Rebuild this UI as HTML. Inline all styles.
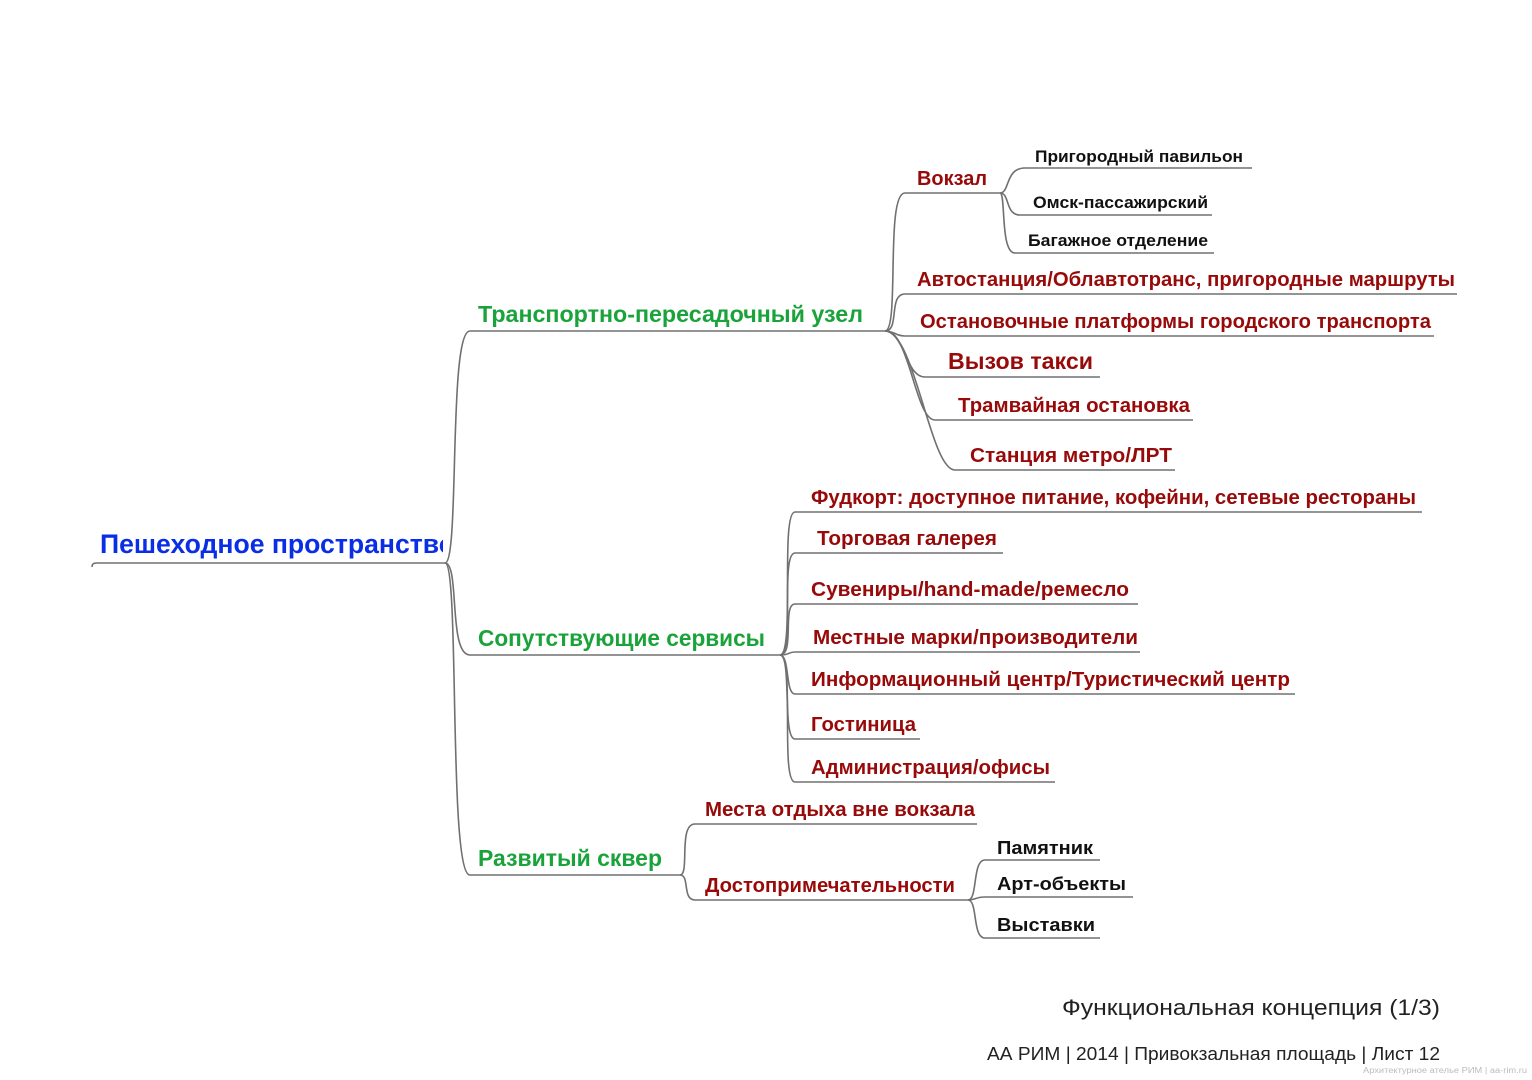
<!DOCTYPE html>
<html><head><meta charset="utf-8"><style>
html,body{margin:0;padding:0;background:#fff;}
svg{display:block;}
text{font-family:"Liberation Sans","DejaVu Sans",sans-serif;font-weight:bold;}
.r{fill:#980a0a;font-size:20px;}
.g{fill:#1aa33a;font-size:23px;}
.k{fill:#111;font-size:17px;}
.l{stroke:#707070;stroke-width:1.6;fill:none;}
</style></head><body>
<svg width="1532" height="1080" viewBox="0 0 1532 1080" xmlns="http://www.w3.org/2000/svg">
<defs><clipPath id="c"><rect x="90" y="520" width="353" height="50"/></clipPath></defs>
<g class="l">
<path d="M92 567 Q92 563 96 563 L445 563"/>
<path d="M470 331 L885 331"/><path d="M470 655 L780 655"/><path d="M470 875 L680 875"/>
<path d="M905 193 L1000 193"/><path d="M1025 168 L1252 168"/><path d="M1020 215 L1212 215"/><path d="M1015 253 L1214 253"/>
<path d="M905 294 L1457 294"/><path d="M905 336 L1434 336"/><path d="M925 377 L1100 377"/><path d="M935 420 L1193 420"/><path d="M955 470 L1175 470"/>
<path d="M795 512 L1422 512"/><path d="M795 553 L1003 553"/><path d="M795 604 L1138 604"/><path d="M795 652 L1140 652"/><path d="M795 694 L1295 694"/><path d="M795 739 L920 739"/><path d="M795 782 L1055 782"/>
<path d="M695 824 L977 824"/><path d="M695 900 L968 900"/>
<path d="M985 860 L1100 860"/><path d="M985 897 L1133 897"/><path d="M985 938 L1100 938"/>
<path d="M445 563 C460 563 448 331 470 331"/>
<path d="M445 563 C460 563 448 655 470 655"/>
<path d="M445 563 C460 563 448 875 470 875"/>
<path d="M885 331 C900 331 885 193 905 193"/>
<path d="M885 331 C900 331 888 294 905 294"/>
<path d="M885 331 C895 331 895 336 905 336"/>
<path d="M885 331 C905 331 905 377 925 377"/>
<path d="M885 331 C910 331 915 420 935 420"/>
<path d="M885 331 C915 331 930 470 955 470"/>
<path d="M1000 193 C1010 193 1005 168 1025 168"/>
<path d="M1000 193 C1010 193 1005 215 1020 215"/>
<path d="M1000 193 C1006 193 1000 253 1015 253"/>
<path d="M780 655 C795 655 780 512 795 512"/>
<path d="M780 655 C795 655 780 553 795 553"/>
<path d="M780 655 C795 655 782 604 795 604"/>
<path d="M780 655 C790 655 788 652 795 652"/>
<path d="M780 655 C790 655 785 694 795 694"/>
<path d="M780 655 C792 655 782 739 795 739"/>
<path d="M780 655 C795 655 780 782 795 782"/>
<path d="M680 875 C690 875 678 824 695 824"/>
<path d="M680 875 C690 875 682 900 695 900"/>
<path d="M968 900 C978 900 972 860 985 860"/>
<path d="M968 900 C976 900 975 897 985 897"/>
<path d="M968 900 C978 900 972 938 985 938"/>
</g>
<text x="100" y="553" clip-path="url(#c)" style="fill:#0a2ee6;font-size:27px" textLength="355" lengthAdjust="spacingAndGlyphs">Пешеходное пространство</text>
<text class="g" x="478" y="322" textLength="385" lengthAdjust="spacingAndGlyphs">Транспортно-пересадочный узел</text>
<text class="g" x="478" y="646" textLength="287" lengthAdjust="spacingAndGlyphs">Сопутствующие сервисы</text>
<text class="g" x="478" y="866" textLength="184" lengthAdjust="spacingAndGlyphs">Развитый сквер</text>
<text class="r" x="917" y="185" textLength="70" lengthAdjust="spacingAndGlyphs">Вокзал</text>
<text class="k" x="1035" y="162" textLength="208" lengthAdjust="spacingAndGlyphs">Пригородный павильон</text>
<text class="k" x="1033" y="208" textLength="175" lengthAdjust="spacingAndGlyphs">Омск-пассажирский</text>
<text class="k" x="1028" y="246" textLength="180" lengthAdjust="spacingAndGlyphs">Багажное отделение</text>
<text class="r" x="917" y="286" textLength="538" lengthAdjust="spacingAndGlyphs">Автостанция/Облавтотранс, пригородные маршруты</text>
<text class="r" x="920" y="328" textLength="511" lengthAdjust="spacingAndGlyphs">Остановочные платформы городского транспорта</text>
<text class="r" x="948" y="369" style="font-size:23px" textLength="145" lengthAdjust="spacingAndGlyphs">Вызов такси</text>
<text class="r" x="958" y="412" textLength="232" lengthAdjust="spacingAndGlyphs">Трамвайная остановка</text>
<text class="r" x="970" y="462" textLength="202" lengthAdjust="spacingAndGlyphs">Станция метро/ЛРТ</text>
<text class="r" x="811" y="504" textLength="605" lengthAdjust="spacingAndGlyphs">Фудкорт: доступное питание, кофейни, сетевые рестораны</text>
<text class="r" x="817" y="545" textLength="180" lengthAdjust="spacingAndGlyphs">Торговая галерея</text>
<text class="r" x="811" y="596" textLength="318" lengthAdjust="spacingAndGlyphs">Сувениры/hand-made/ремесло</text>
<text class="r" x="813" y="644" textLength="325" lengthAdjust="spacingAndGlyphs">Местные марки/производители</text>
<text class="r" x="811" y="686" textLength="479" lengthAdjust="spacingAndGlyphs">Информационный центр/Туристический центр</text>
<text class="r" x="811" y="731" textLength="105" lengthAdjust="spacingAndGlyphs">Гостиница</text>
<text class="r" x="811" y="774" textLength="239" lengthAdjust="spacingAndGlyphs">Администрация/офисы</text>
<text class="r" x="705" y="816" textLength="270" lengthAdjust="spacingAndGlyphs">Места отдыха вне вокзала</text>
<text class="r" x="705" y="892" textLength="250" lengthAdjust="spacingAndGlyphs">Достопримечательности</text>
<text class="k" x="997" y="854" style="font-size:18px" textLength="96" lengthAdjust="spacingAndGlyphs">Памятник</text>
<text class="k" x="997" y="890" style="font-size:18px" textLength="129" lengthAdjust="spacingAndGlyphs">Арт-объекты</text>
<text class="k" x="997" y="931" style="font-size:18px" textLength="98" lengthAdjust="spacingAndGlyphs">Выставки</text>
<text x="1062" y="1015" style="font-weight:normal;font-size:22px;fill:#222" textLength="378" lengthAdjust="spacingAndGlyphs">Функциональная концепция (1/3)</text>
<text x="987" y="1060" style="font-weight:normal;font-size:18px;fill:#222" textLength="453" lengthAdjust="spacingAndGlyphs">АА РИМ | 2014 | Привокзальная площадь | Лист 12</text>
<text x="1363" y="1073" style="font-weight:normal;font-size:8px;fill:#bbb" textLength="164" lengthAdjust="spacingAndGlyphs">Архитектурное ателье РИМ | aa-rim.ru</text>
</svg>
</body></html>
